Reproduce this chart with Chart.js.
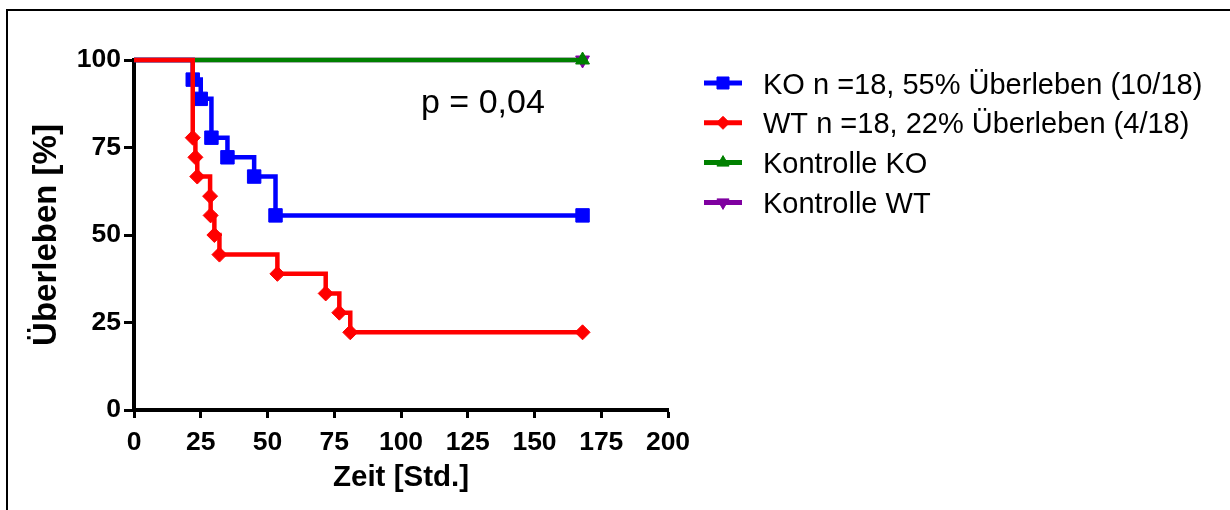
<!DOCTYPE html>
<html lang="de">
<head>
<meta charset="utf-8">
<title>Überleben</title>
<script src="https://cdn.jsdelivr.net/npm/chart.js@4.4.1/dist/chart.umd.min.js"></script>
<style>
  html, body { margin: 0; padding: 0; background: #fff; overflow: hidden; }
  #wrap { position: relative; width: 1230px; height: 510px; overflow: hidden; }
  #frame { position: absolute; left: 6px; top: 9px; width: 1300px; height: 600px;
           border-top: 2px solid #000; border-left: 2px solid #000; }
  #km-chart { position: absolute; left: 0; top: 0; }
</style>
</head>
<body>
<div id="wrap">
  <div id="frame"></div>
  <canvas id="km-chart" width="1230" height="510"></canvas>
</div>
<script>
'use strict';

// Kaplan-Meier steps: time [h] and survival [%]
const koTime = [0, 22, 25, 29, 35, 45, 53, 168];
const koSurv = [100, 94.4, 88.9, 77.8, 72.2, 66.7, 55.6, 55.6];
const wtTime = [0, 22, 23, 23.7, 28.5, 28.7, 30.1, 32, 53.7, 71.8, 76.9, 81, 168];
const wtSurv = [100, 77.8, 72.2, 66.7, 61.1, 55.6, 50, 44.4, 38.9, 33.3, 27.8, 22.2, 22.2];
const ctrlTime = [0, 168];
const ctrlKoSurv = [100, 100];
const ctrlWtSurv = [100, 100];

const seriesLabels = [
  'KO n =18, 55% Überleben (10/18)',
  'WT n =18, 22% Überleben (4/18)',
  'Kontrolle KO',
  'Kontrolle WT',
];
const xTickValues = [0, 25, 50, 75, 100, 125, 150, 175, 200];
const yTickValues = [0, 25, 50, 75, 100];
const pValueText = 'p = 0,04';

const FONT = "'Liberation Sans', Arial, Helvetica, sans-serif";
Chart.defaults.font.family = FONT;
Chart.defaults.color = '#000';

function toPoints(xs, ys) {
  return xs.map((x, i) => ({ x, y: ys[i] }));
}

// no marker on the starting point at t = 0
function markerRadius(r) {
  return ctx => (ctx.dataIndex === 0 ? 0 : r);
}

function series(label, xs, ys, color, style, r, rotation, order) {
  return {
    label,
    data: toPoints(xs, ys),
    borderColor: color,
    backgroundColor: color,
    borderWidth: 4.5,
    stepped: 'before',
    pointStyle: style,
    pointRotation: rotation,
    pointRadius: markerRadius(r),
    pointBorderWidth: 1,
    legendRadius: r,
    order,
    clip: false,
  };
}

const datasets = [
  series(seriesLabels[0], koTime, koSurv, '#0000ff', 'rect', 9.5, 0, 1),
  series(seriesLabels[1], wtTime, wtSurv, '#ff0000', 'rectRot', 7.5, 0, 0),
  series(seriesLabels[2], ctrlTime, ctrlKoSurv, '#008000', 'triangle', 8, 0, 2),
  series(seriesLabels[3], ctrlTime, ctrlWtSurv, '#7f00a0', 'triangle', 8, 180, 3),
];

// legend to the right of the plot plus the p-value label
const annotations = {
  id: 'annotations',
  afterDraw(chart) {
    const ctx = chart.ctx;
    ctx.save();
    chart.data.datasets.forEach((ds, i) => {
      const y = 83 + i * 39.8;
      ctx.strokeStyle = ds.borderColor;
      ctx.fillStyle = ds.backgroundColor;
      ctx.lineWidth = 5;
      ctx.beginPath();
      ctx.moveTo(704, y);
      ctx.lineTo(742, y);
      ctx.stroke();
      ctx.lineWidth = 1;
      Chart.helpers.drawPoint(ctx, {
        pointStyle: ds.pointStyle,
        rotation: ds.pointRotation,
        radius: ds.legendRadius - 1,
        borderWidth: 1,
      }, 723, y);
      ctx.fillStyle = '#000';
      ctx.font = '29px ' + FONT;
      ctx.textBaseline = 'alphabetic';
      ctx.textAlign = 'left';
      ctx.fillText(ds.label, 763, y + 10.5);
    });
    ctx.fillStyle = '#000';
    ctx.font = '34px ' + FONT;
    ctx.fillText(pValueText, 421, 113);
    ctx.restore();
  },
};

const axisGrid = {
  drawOnChartArea: false,
  drawTicks: true,
  color: '#000',
  tickColor: '#000',
  tickWidth: 3,
};

new Chart(document.getElementById('km-chart'), {
  type: 'line',
  data: { datasets },
  options: {
    responsive: false,
    animation: false,
    events: [],
    layout: { padding: { left: 20, top: 60, right: 562, bottom: 10 } },
    plugins: { legend: { display: false }, tooltip: { enabled: false } },
    scales: {
      x: {
        type: 'linear',
        min: 0,
        max: 200,
        afterBuildTicks: s => { s.ticks = xTickValues.map(v => ({ value: v })); },
        afterFit: s => { s.height = 90; },
        ticks: { font: { size: 26.5, weight: 'bold' }, padding: 9, maxRotation: 0 },
        grid: Object.assign({ tickLength: 8 }, axisGrid),
        border: { display: true, color: '#000', width: 4 },
        title: {
          display: true,
          text: 'Zeit [Std.]',
          font: { size: 29.5, weight: 'bold' },
          padding: { top: 0, bottom: 4 },
        },
      },
      y: {
        min: 0,
        max: 100,
        afterBuildTicks: s => { s.ticks = yTickValues.map(v => ({ value: v })); },
        afterFit: s => { s.width = 114; },
        ticks: { font: { size: 26.5, weight: 'bold' }, padding: 3 },
        grid: Object.assign({ tickLength: 10 }, axisGrid),
        border: { display: true, color: '#000', width: 4 },
        title: {
          display: true,
          text: 'Überleben [%]',
          font: { size: 33, weight: 'bold' },
          padding: { top: 7, bottom: 0 },
        },
      },
    },
  },
  plugins: [annotations],
});
</script>
</body>
</html>
